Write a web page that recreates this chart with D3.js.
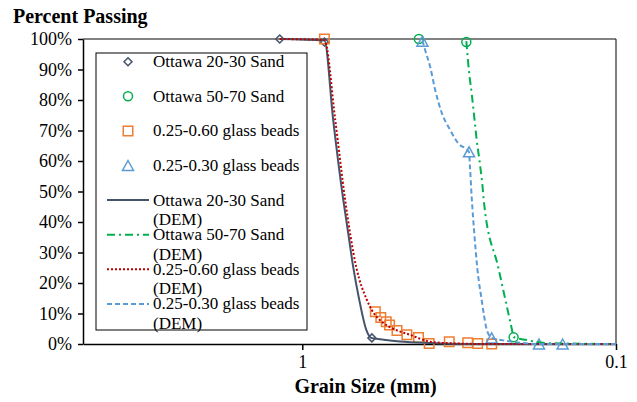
<!DOCTYPE html>
<html>
<head>
<meta charset="utf-8">
<script src="https://cdn.jsdelivr.net/npm/d3@7"></script>
<style>
  html, body { margin: 0; padding: 0; background: #fff; }
  svg { display: block; font-family: "Liberation Serif", "Times New Roman", serif; }
</style>
</head>
<body>
<svg id="chart" width="637" height="402"></svg>
<script>
// ---------- data (grain size in mm, percent passing) ----------
const sand2030Size   = [1.18, 0.85, 0.6];
const sand2030Pass   = [100, 99, 2];
const sand5070Size   = [0.425, 0.3, 0.212];
const sand5070Pass   = [100, 99, 2.2];
const beads2560Size  = [0.85, 0.585, 0.562, 0.54, 0.527, 0.499, 0.464, 0.426, 0.394, 0.34, 0.297, 0.276, 0.249];
const beads2560Pass  = [100, 10.6, 8.7, 7.3, 6.2, 4.4, 3.0, 2.1, 0.2, 0.7, 0.4, 0.2, 0];
const beads2530Size  = [0.414, 0.294, 0.249, 0.176, 0.148];
const beads2530Pass  = [99.3, 63, 2, 0, 0];

const dem2030Size  = [1.18, 0.85, 0.797, 0.74, 0.714, 0.688, 0.658, 0.625, 0.603, 0.55, 0.488, 0.391, 0.3, 0.1];
const dem2030Pass  = [100, 99.5, 73.4, 47.2, 36.4, 25.2, 14.4, 4.6, 2, 1.4, 0.8, 0.3, 0, 0];
const dem5070Size  = [0.3, 0.294, 0.288, 0.283, 0.278, 0.272, 0.267, 0.263, 0.2374, 0.215, 0.212, 0.1925, 0.166, 0.1];
const dem5070Pass  = [99.3, 89.2, 81.6, 74.4, 66.9, 59.7, 52.8, 45.6, 25.2, 5.1, 2.3, 1.3, 0.3, 0];
const dem2560Size  = [1.18, 0.85, 0.785, 0.73, 0.673, 0.622, 0.6, 0.552, 0.518, 0.453, 0.391, 0.331, 0.258, 0.1];
const dem2560Pass  = [100, 99.7, 73.4, 47.2, 25.2, 14.4, 11.1, 6.9, 5.2, 3.0, 0.75, 0.2, 0, 0];
const dem2530Size  = [0.414, 0.406, 0.391, 0.377, 0.359, 0.338, 0.319, 0.294, 0.292, 0.288, 0.283, 0.277, 0.268, 0.258, 0.249, 0.222, 0.176, 0.1];
const dem2530Pass  = [99.5, 96.4, 90.8, 83.3, 75.7, 70.2, 65.9, 62.9, 58, 47.2, 36.4, 25.2, 14.4, 4.6, 2, 1, 0, 0];

const yTicks = [0, 10, 20, 30, 40, 50, 60, 70, 80, 90, 100];
const xTicks = [1, 0.1];
const xTickLabels = ["1", "0.1"];

const markerSeries = [
  { name: "Ottawa 20-30 Sand", size: sand2030Size, pass: sand2030Pass, shape: "diamond", color: "#44546A" },
  { name: "Ottawa 50-70 Sand", size: sand5070Size, pass: sand5070Pass, shape: "circle", color: "#00B050" },
  { name: "0.25-0.60 glass beads", size: beads2560Size, pass: beads2560Pass, shape: "square", color: "#ED7D31" },
  { name: "0.25-0.30 glass beads", size: beads2530Size, pass: beads2530Pass, shape: "triangle", color: "#5B9BD5" }
];
const lineSeries = [
  { name: ["Ottawa 20-30 Sand", "(DEM)"], size: dem2030Size, pass: dem2030Pass, color: "#44546A", dash: null, width: 2 },
  { name: ["Ottawa 50-70 Sand", "(DEM)"], size: dem5070Size, pass: dem5070Pass, color: "#00B050", dash: "8,4,2,4", width: 2 },
  { name: ["0.25-0.60 glass beads", "(DEM)"], size: dem2560Size, pass: dem2560Pass, color: "#C00000", dash: "2,2", width: 2 },
  { name: ["0.25-0.30 glass beads", "(DEM)"], size: dem2530Size, pass: dem2530Pass, color: "#5B9BD5", dash: "5,3", width: 2 }
];

// ---------- layout ----------
const L = 83, R = 616, T = 39, B = 344;
const svg = d3.select("#chart");
const x = d3.scaleLog().domain([5, 0.1]).range([L, R]);
const y = d3.scaleLinear().domain([0, 100]).range([B, T]);

function markerPath(shape) {
  switch (shape) {
    case "diamond": return "M0,-4L4,0L0,4L-4,0Z";
    case "circle": return d3.arc()({innerRadius: 0, outerRadius: 4.5, startAngle: 0, endAngle: 2 * Math.PI});
    case "square": return "M-4.75,-4.75H4.75V4.75H-4.75Z";
    case "triangle": return "M0,-5L5.5,5H-5.5Z";
  }
}

// plot frame
svg.append("line").attr("x1", L).attr("x2", R).attr("y1", T).attr("y2", T)
  .attr("stroke", "#595959").attr("stroke-width", 1.5);
svg.append("line").attr("x1", R).attr("x2", R).attr("y1", T).attr("y2", B)
  .attr("stroke", "#000").attr("stroke-width", 1);

// axes
const yAxis = svg.append("g").attr("transform", `translate(${L},0)`)
  .call(d3.axisLeft(y).tickValues(yTicks).tickFormat(d => d + "%").tickSize(5).tickSizeOuter(0).tickPadding(6));
yAxis.selectAll("text").attr("font-size", 18).attr("fill", "#000").attr("font-family", "Liberation Serif");
yAxis.selectAll("line, path").attr("stroke", "#000").attr("stroke-width", 1.5);

const xAxis = svg.append("g").attr("transform", `translate(0,${B})`)
  .call(d3.axisBottom(x).tickValues(xTicks).tickFormat((d, i) => xTickLabels[i]).tickSize(6).tickSizeOuter(0).tickPadding(5));
xAxis.selectAll("text").attr("font-size", 18).attr("fill", "#000").attr("font-family", "Liberation Serif");
xAxis.selectAll("line, path").attr("stroke", "#000").attr("stroke-width", 1.5);

// titles
svg.append("text").attr("x", 13).attr("y", 23).attr("font-size", 20).attr("font-weight", "bold")
  .text("Percent Passing");
svg.append("text").attr("x", 365.5).attr("y", 393).attr("text-anchor", "middle")
  .attr("font-size", 20).attr("font-weight", "bold").text("Grain Size (mm)");

// marker series
markerSeries.forEach(s => {
  svg.append("g").selectAll("path").data(s.size.map((v, i) => [v, s.pass[i]])).join("path")
    .attr("d", markerPath(s.shape))
    .attr("transform", d => `translate(${x(d[0])},${y(d[1])})`)
    .attr("fill", "none").attr("stroke", s.color).attr("stroke-width", 1.5);
});

// DEM lines
lineSeries.forEach(s => {
  const line = d3.line().x(d => x(d[0])).y(d => y(d[1])).curve(d3.curveMonotoneX);
  svg.append("path").datum(s.size.map((v, i) => [v, s.pass[i]]))
    .attr("d", line).attr("fill", "none").attr("stroke", s.color)
    .attr("stroke-width", s.width).attr("stroke-dasharray", s.dash);
});

// legend
const lg = svg.append("g");
lg.append("rect").attr("x", 96).attr("y", 53).attr("width", 211).attr("height", 277)
  .attr("fill", "#fff").attr("stroke", "#000").attr("stroke-width", 1);
const ly0 = 61.7, lstep = 34.6;
markerSeries.forEach((s, i) => {
  const cy = ly0 + i * lstep;
  lg.append("path").attr("d", markerPath(s.shape)).attr("transform", `translate(128,${cy})`)
    .attr("fill", "none").attr("stroke", s.color).attr("stroke-width", 1.5);
  lg.append("text").attr("x", 153).attr("y", cy + 5.5).attr("font-size", 17).text(s.name);
});
lineSeries.forEach((s, i) => {
  const cy = ly0 + (i + 4) * lstep;
  lg.append("line").attr("x1", 107).attr("x2", 149).attr("y1", cy).attr("y2", cy)
    .attr("stroke", s.color).attr("stroke-width", s.width).attr("stroke-dasharray", s.dash);
  s.name.forEach((t, j) => {
    lg.append("text").attr("x", 153).attr("y", cy + 5.5 + j * 19.5).attr("font-size", 17).text(t);
  });
});
</script>
</body>
</html>
